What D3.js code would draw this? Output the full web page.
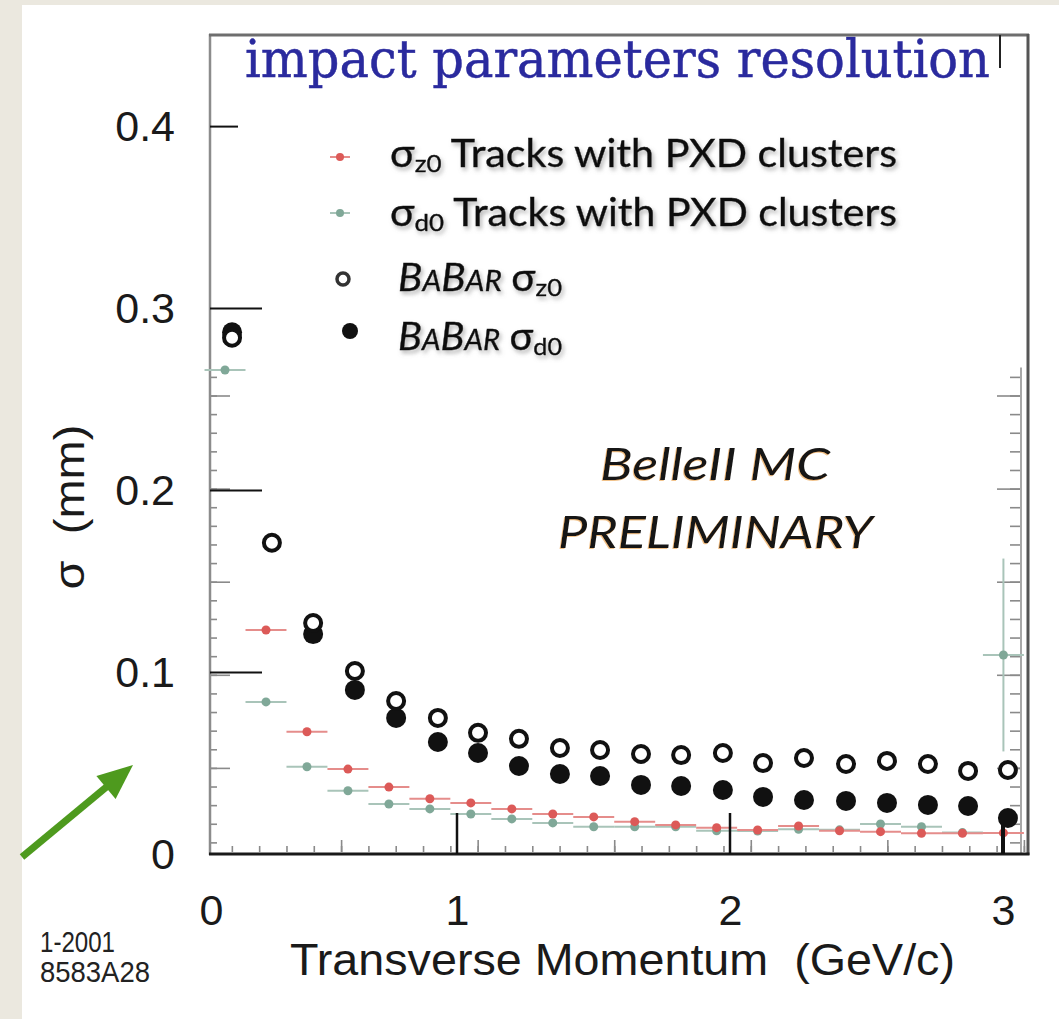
<!DOCTYPE html>
<html>
<head>
<meta charset="utf-8">
<script src="https://cdnjs.cloudflare.com/ajax/libs/d3/7.8.5/d3.min.js"></script>
<style>
body { margin: 0; background: #ebe8df; }
svg { display: block; }
</style>
</head>
<body>
<svg width="1059" height="1019"></svg>
<script>
// BelleII MC: bin centres (GeV/c) and resolutions (mm)
var binCentres = [0.075, 0.225, 0.375, 0.525, 0.675, 0.825, 0.975, 1.125, 1.275, 1.425,
                  1.575, 1.725, 1.875, 2.025, 2.175, 2.325, 2.475, 2.625, 2.775, 2.925];
var binHalfWidth = 0.075;
var sigmaZ0 = [null, 0.1233, 0.0674, 0.0469, 0.0370, 0.0306, 0.0283, 0.0250, 0.0222, 0.0206,
               0.0180, 0.0162, 0.0147, 0.0134, 0.0156, 0.0130, 0.0125, 0.0116, 0.0116, 0.0118];
var sigmaD0 = [0.2662, 0.0838, 0.0482, 0.0350, 0.0277, 0.0250, 0.0222, 0.0195, 0.0173, 0.0152,
               0.0152, 0.0152, 0.0130, 0.0128, 0.0138, 0.0135, 0.0167, 0.0152, 0.0120, 0.1096];
var sigmaD0Err = [0.002, 0.001, 0.001, 0.001, 0.001, 0.001, 0.001, 0.001, 0.001, 0.001,
                  0.001, 0.001, 0.001, 0.001, 0.002, 0.002, 0.002, 0.002, 0.002, 0.053];

// BaBar overlay
var babarP = [0.176, 0.322, 0.473, 0.626, 0.777, 0.930, 1.077, 1.227, 1.377, 1.524,
              1.674, 1.821, 1.974, 2.121, 2.271, 2.425, 2.575, 2.725, 2.872, 3.018];
var babarZ0 = [0.284, 0.1713, 0.1272, 0.1008, 0.0843, 0.0750, 0.0668, 0.0635, 0.0585, 0.0574,
               0.0552, 0.0546, 0.0557, 0.0502, 0.0530, 0.0497, 0.0514, 0.0497, 0.0459, 0.0464];
var babarD0 = [0.287, null, 0.1211, 0.0904, 0.0750, 0.0618, 0.0557, 0.0486, 0.0442, 0.0431,
               0.0382, 0.0376, 0.0354, 0.0316, 0.0299, 0.0294, 0.0283, 0.0272, 0.0266, 0.0200];

var xTickValues = [0, 1, 2, 3];
var yTickValues = [0, 0.1, 0.2, 0.3, 0.4];
var legendSubs = ["z0", "d0", "z0", "d0"];
var legendTail = " Tracks with PXD clusters";

var red = "#dc5a58", redBar = "#e58d8b";
var green = "#80a898", greenBar = "#a9c4b9";

function render() {
    var svg = d3.select("svg");
    svg.selectAll("*").remove();

    var defs = svg.append("defs");
    defs.append("filter").attr("id", "shadow")
        .attr("x", "-5%").attr("y", "-30%").attr("width", "110%").attr("height", "160%")
      .append("feDropShadow")
        .attr("dx", 2).attr("dy", 3).attr("stdDeviation", 2)
        .attr("flood-color", "#777").attr("flood-opacity", 0.55);
    defs.append("filter").attr("id", "glow")
        .attr("x", "-5%").attr("y", "-30%").attr("width", "110%").attr("height", "160%")
      .append("feDropShadow")
        .attr("dx", -1).attr("dy", 1).attr("stdDeviation", 0.6)
        .attr("flood-color", "#e89a3c").attr("flood-opacity", 0.6);

    svg.append("rect").attr("x", 22).attr("y", 5)
        .attr("width", 1037).attr("height", 1014).attr("fill", "#ffffff");

    // ROOT histogram frame and BaBar overlay use slightly different x origins
    var x = d3.scaleLinear().domain([0.02, 3.015]).range([210, 1028]);
    var xb = d3.scaleLinear().domain([0, 3]).range([184, 1003]);
    var y = d3.scaleLinear().domain([0, 0.4]).range([854.4, 126.6]);
    var yr = d3.scaleLinear().domain([0.1, 0.25]).range([674.8, 395.5]);

    // title
    svg.append("text")
        .attr("x", 245).attr("y", 77)
        .attr("font-family", "DejaVu Serif").attr("font-size", 52)
        .attr("fill", "#2a2a9e").attr("stroke", "#2a2a9e").attr("stroke-width", 0.5)
        .attr("textLength", 745).attr("lengthAdjust", "spacingAndGlyphs")
        .text("impact parameters resolution");

    // ROOT minor / major ticks
    var minorY = d3.range(1, 27).map(function(i) { return i / 100; });
    var majorY = [0.05, 0.1, 0.15, 0.2, 0.25];
    var minorX = d3.range(1, 31).map(function(i) { return i / 10; });
    var majorX = [0.5, 1, 1.5, 2, 2.5, 3];

    function ticks(axis, tx, ty, vals, size) {
        var g = svg.append("g")
            .attr("transform", "translate(" + tx + "," + ty + ")")
            .call(axis.tickValues(vals).tickSize(size).tickFormat(""));
        g.select(".domain").remove();
        g.selectAll("line").attr("stroke", "#8a8a8a").attr("stroke-width", 1.6);
    }
    ticks(d3.axisRight(yr), 211, 0, minorY, 6);
    ticks(d3.axisRight(yr), 211, 0, majorY, 19);
    ticks(d3.axisLeft(yr), 1021, 0, minorY, 11);
    ticks(d3.axisLeft(yr), 1021, 0, majorY, 24);
    ticks(d3.axisTop(x), 0, 852, minorX, 6);
    ticks(d3.axisTop(x), 0, 852, majorX, 12);

    // frame
    svg.append("line").attr("x1", 1021).attr("x2", 1021)
        .attr("y1", yr(0.265)).attr("y2", 853)
        .attr("stroke", "#a8a8a8").attr("stroke-width", 2);
    svg.append("line").attr("x1", 210).attr("x2", 210).attr("y1", 34).attr("y2", 855)
        .attr("stroke", "#8c8c8c").attr("stroke-width", 2.5);
    svg.append("line").attr("x1", 209).attr("x2", 1029).attr("y1", 35).attr("y2", 35)
        .attr("stroke", "#6e6e6e").attr("stroke-width", 3);
    svg.append("line").attr("x1", 1028).attr("x2", 1028).attr("y1", 34).attr("y2", 855)
        .attr("stroke", "#555").attr("stroke-width", 3);
    svg.append("line").attr("x1", 209).attr("x2", 1029.5).attr("y1", 854).attr("y2", 854)
        .attr("stroke", "#1a1a1a").attr("stroke-width", 3);

    // BelleII points
    var pts = binCentres.map(function(c, i) {
        return {c: c, z0: sigmaZ0[i], d0: sigmaD0[i], d0e: sigmaD0Err[i]};
    });
    var gd = svg.append("g");
    var dPts = pts.filter(function(d) { return d.d0 != null; });
    gd.selectAll(".dbar").data(dPts).enter().append("line")
        .attr("x1", function(d) { return x(d.c - binHalfWidth); })
        .attr("x2", function(d) { return x(Math.min(d.c + binHalfWidth, 3.01)); })
        .attr("y1", function(d) { return y(d.d0); })
        .attr("y2", function(d) { return y(d.d0); })
        .attr("stroke", greenBar).attr("stroke-width", 2);
    gd.selectAll(".derr").data(dPts).enter().append("line")
        .attr("x1", function(d) { return x(d.c); })
        .attr("x2", function(d) { return x(d.c); })
        .attr("y1", function(d) { return y(d.d0 - d.d0e); })
        .attr("y2", function(d) { return y(d.d0 + d.d0e); })
        .attr("stroke", greenBar).attr("stroke-width", 2);
    gd.selectAll("circle").data(dPts).enter().append("circle")
        .attr("cx", function(d) { return x(d.c); })
        .attr("cy", function(d) { return y(d.d0); })
        .attr("r", 4.5).attr("fill", green);

    var gz = svg.append("g");
    var zPts = pts.filter(function(d) { return d.z0 != null; });
    gz.selectAll("line").data(zPts).enter().append("line")
        .attr("x1", function(d) { return x(d.c - binHalfWidth); })
        .attr("x2", function(d) { return x(Math.min(d.c + binHalfWidth, 3.01)); })
        .attr("y1", function(d) { return y(d.z0); })
        .attr("y2", function(d) { return y(d.z0); })
        .attr("stroke", redBar).attr("stroke-width", 2);
    gz.selectAll("circle").data(zPts).enter().append("circle")
        .attr("cx", function(d) { return x(d.c); })
        .attr("cy", function(d) { return y(d.z0); })
        .attr("r", 4.5).attr("fill", red);

    // BaBar points: filled first, open (white inside) on top
    var bab = babarP.map(function(p, i) { return {p: p, z0: babarZ0[i], d0: babarD0[i]}; });
    svg.append("g").selectAll("circle")
        .data(bab.filter(function(d) { return d.d0 != null; }))
        .enter().append("circle")
        .attr("cx", function(d) { return xb(d.p); })
        .attr("cy", function(d) { return y(d.d0); })
        .attr("r", 10).attr("fill", "#111");
    svg.append("g").selectAll("circle")
        .data(bab)
        .enter().append("circle")
        .attr("cx", function(d) { return xb(d.p); })
        .attr("cy", function(d) { return y(d.z0); })
        .attr("r", 8).attr("fill", "#fff")
        .attr("stroke", "#111").attr("stroke-width", 4);

    // BaBar long ticks
    svg.append("g").selectAll("line").data(yTickValues.filter(function(d) { return d > 0; }))
        .enter().append("line")
        .attr("x1", 210)
        .attr("x2", function(d) { return d === 0.4 ? 238 : 262; })
        .attr("y1", function(d) { return y(d); })
        .attr("y2", function(d) { return y(d); })
        .attr("stroke", "#111").attr("stroke-width", 2);
    svg.append("g").selectAll("line").data(xTickValues.filter(function(d) { return d > 0; }))
        .enter().append("line")
        .attr("x1", function(d) { return xb(d); })
        .attr("x2", function(d) { return xb(d); })
        .attr("y1", 813).attr("y2", 854)
        .attr("stroke", "#111")
        .attr("stroke-width", function(d) { return d === 3 ? 4 : 2.5; });
    svg.append("line")
        .attr("x1", xb(3) - 3).attr("x2", xb(3) - 3).attr("y1", 35).attr("y2", 68)
        .attr("stroke", "#222").attr("stroke-width", 2);

    // axis labels
    var yAxis = d3.axisLeft(y).tickValues(yTickValues).tickSize(0).tickPadding(35)
        .tickFormat(function(d) { return d === 0 ? "0" : d.toFixed(1); });
    var gy = svg.append("g").attr("transform", "translate(210,0)").call(yAxis);
    gy.select(".domain").remove();
    gy.selectAll("text").attr("font-family", "Liberation Sans").attr("font-size", 43)
        .attr("fill", "#1a1a1a");

    var xAxis = d3.axisBottom(xb).tickValues(xTickValues).tickSize(0).tickPadding(40)
        .tickFormat(d3.format("d"));
    var gx = svg.append("g").attr("transform", "translate(0,854)").call(xAxis);
    gx.select(".domain").remove();
    gx.selectAll("text").attr("font-family", "Liberation Sans").attr("font-size", 43)
        .attr("fill", "#1a1a1a");
    // the "0" of the original sits right of the BaBar origin
    gx.selectAll("text").filter(function(d) { return d === 0; }).attr("dx", 27);

    svg.append("text")
        .attr("x", 290).attr("y", 975)
        .attr("font-family", "Liberation Sans").attr("font-size", 44)
        .attr("fill", "#1a1a1a").style("white-space", "pre")
        .attr("textLength", 665).attr("lengthAdjust", "spacingAndGlyphs")
        .text("Transverse Momentum  (GeV/c)");

    svg.append("text")
        .attr("transform", "translate(84,507) rotate(-90)")
        .attr("text-anchor", "middle")
        .attr("font-family", "Liberation Sans").attr("font-size", 42)
        .attr("fill", "#1a1a1a").style("white-space", "pre")
        .attr("textLength", 165).attr("lengthAdjust", "spacingAndGlyphs")
        .text("\u03c3  (mm)");

    svg.append("text").attr("x", 40).attr("y", 952)
        .attr("font-family", "Liberation Sans").attr("font-size", 30).attr("fill", "#222")
        .attr("textLength", 75).attr("lengthAdjust", "spacingAndGlyphs").text("1-2001");
    svg.append("text").attr("x", 40).attr("y", 982)
        .attr("font-family", "Liberation Sans").attr("font-size", 30).attr("fill", "#222")
        .attr("textLength", 110).attr("lengthAdjust", "spacingAndGlyphs").text("8583A28");

    // legend
    var lg = svg.append("g");
    lg.append("line").attr("x1", 330).attr("x2", 350).attr("y1", 157).attr("y2", 157)
        .attr("stroke", redBar).attr("stroke-width", 2);
    lg.append("circle").attr("cx", 340).attr("cy", 157).attr("r", 4).attr("fill", red);
    lg.append("line").attr("x1", 330).attr("x2", 350).attr("y1", 213).attr("y2", 213)
        .attr("stroke", greenBar).attr("stroke-width", 2);
    lg.append("circle").attr("cx", 340).attr("cy", 213).attr("r", 4).attr("fill", green);
    lg.append("circle").attr("cx", 343).attr("cy", 279).attr("r", 6)
        .attr("fill", "#fff").attr("stroke", "#333").attr("stroke-width", 3.5);
    lg.append("circle").attr("cx", 350).attr("cy", 331).attr("r", 8).attr("fill", "#111");

    var rowY = [167, 226, 291, 350];
    legendSubs.forEach(function(sub, i) {
        var t = lg.append("text")
            .attr("y", rowY[i])
            .attr("font-family", "Lato").attr("font-size", 38)
            .attr("fill", "#111").attr("stroke", "#111").attr("stroke-width", 0.4)
            .attr("filter", "url(#shadow)")
            .style("white-space", "pre");
        if (i < 2) {
            t.attr("x", 390).attr("textLength", 507).attr("lengthAdjust", "spacingAndGlyphs");
        } else {
            t.attr("x", 398).attr("font-style", "italic")
                .attr("textLength", 164).attr("lengthAdjust", "spacingAndGlyphs");
            t.append("tspan").text("B");
            t.append("tspan").attr("font-size", 28).text("A");
            t.append("tspan").text("B");
            t.append("tspan").attr("font-size", 28).text("AR");
            t.append("tspan").text(" ");
        }
        t.append("tspan").attr("font-style", "normal").text("\u03c3");
        t.append("tspan").attr("font-size", 24).attr("font-style", "normal").attr("dy", 5).text(sub);
        if (i < 2) t.append("tspan").attr("dy", -5).text(legendTail);
    });

    // BelleII label
    var bl = svg.append("g")
        .attr("font-family", "Lato").attr("font-style", "italic")
        .attr("font-size", 44).attr("fill", "#141414").attr("filter", "url(#glow)");
    bl.append("text").attr("x", 600).attr("y", 480)
        .attr("textLength", 230).attr("lengthAdjust", "spacingAndGlyphs").text("BelleII MC");
    bl.append("text").attr("x", 558).attr("y", 548)
        .attr("textLength", 315).attr("lengthAdjust", "spacingAndGlyphs").text("PRELIMINARY");

    // green arrow
    svg.append("line").attr("x1", 22).attr("y1", 857).attr("x2", 110).attr("y2", 784)
        .attr("stroke", "#4e9a1e").attr("stroke-width", 7);
    svg.append("path").attr("d", "M133,765 L96.4,775.9 L115.6,799 Z").attr("fill", "#4e9a1e");
}

render();
</script>
</body>
</html>
